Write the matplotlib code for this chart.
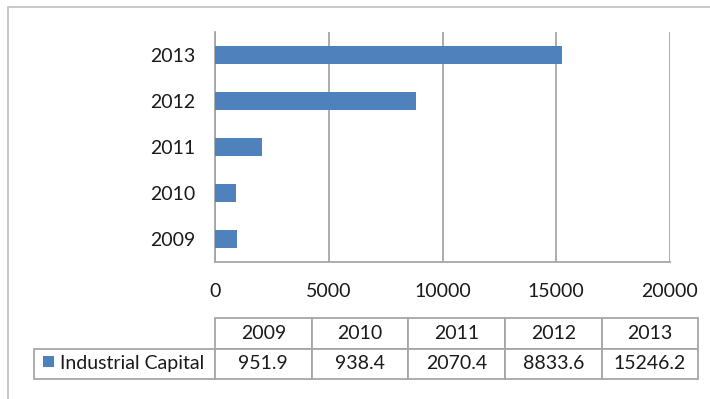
import matplotlib.pyplot as plt
from matplotlib.patches import Rectangle

years = ['2009', '2010', '2011', '2012', '2013']
capital = [951.9, 938.4, 2070.4, 8833.6, 15246.2]
capital_labels = ['951.9', '938.4', '2070.4', '8833.6', '15246.2']
series_name = 'Industrial Capital'
x_ticks = [0, 5000, 10000, 15000, 20000]

bar_color = '#4F81BD'
grid_color = '#A6A6A6'
text_color = '#1A1A1A'
fs = 14

plt.rcParams['font.family'] = ['Lato', 'DejaVu Sans']

W, H = 710, 399
fig = plt.figure(figsize=(W / 100, H / 100), dpi=100)

# area del grafico (pixeles medidos en la referencia)
left, right, top, bottom = 215, 670, 31.7, 261.7
ax = fig.add_axes([left / W, 1 - bottom / H, (right - left) / W, (bottom - top) / H])

ax.barh(range(len(years)), capital, height=0.4, color=bar_color, zorder=3)
ax.set_yticks(range(len(years)))
ax.set_yticklabels(years)
ax.set_ylim(-0.5, len(years) - 0.5)
ax.set_xlim(0, 20000)
ax.set_xticks(x_ticks)
ax.set_xticklabels([str(t) for t in x_ticks])

ax.grid(axis='x', color=grid_color, linewidth=1.3, zorder=0)
ax.tick_params(axis='both', length=0, labelsize=fs, colors=text_color)
ax.tick_params(axis='y', pad=14)
ax.tick_params(axis='x', pad=15)
for s in ['top', 'right']:
    ax.spines[s].set_visible(False)
for s in ['left', 'bottom']:
    ax.spines[s].set_color(grid_color)
    ax.spines[s].set_linewidth(1.3)

# tabla de datos debajo del grafico
ax_w = right - left
ax_h = bottom - top
t_left, t_right, t_top, t_bot = 34.3, 698.3, 318.3, 379
bbox = [(t_left - left) / ax_w, (bottom - t_bot) / ax_h,
        (t_right - t_left) / ax_w, (t_bot - t_top) / ax_h]
total_w = t_right - t_left
col_w = [180.7 / total_w] + [(t_right - 215) / 5 / total_w] * 5

cells = [[''] + years, [''] + capital_labels]
tbl = ax.table(cellText=cells, colWidths=col_w, bbox=bbox, cellLoc='center')
tbl.auto_set_font_size(False)
for (r, c), cell in tbl.get_celld().items():
    cell.set_edgecolor(grid_color)
    cell.set_linewidth(1.3)
    cell.get_text().set_fontsize(fs)
    cell.get_text().set_color(text_color)
    if r == 0 and c == 0:
        cell.visible_edges = ''

# marcador de la serie y texto
fig.text(60 / W, 1 - 363 / H, series_name, fontsize=fs, color=text_color,
         ha='left', va='center')
fig.patches.append(Rectangle((43 / W, 1 - 367 / H), 11 / W, 11 / H,
                             transform=fig.transFigure, facecolor=bar_color,
                             edgecolor='none'))

# borde exterior
fig.patches.append(Rectangle((8 / W, -0.1), 1.2, 1 - 7 / H + 0.1,
                             transform=fig.transFigure, facecolor='none',
                             edgecolor='#BFBFBF', linewidth=1.2))

fig.savefig('out.png', dpi=100)
